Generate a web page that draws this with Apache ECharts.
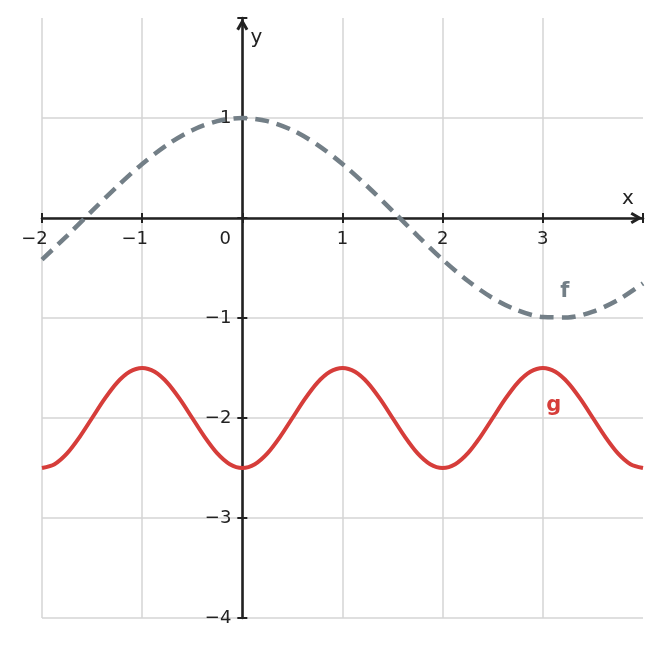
<!DOCTYPE html>
<html>
<head>
<meta charset="utf-8">
<script src="https://cdn.jsdelivr.net/npm/echarts@6/dist/echarts.min.js"></script>
<style>
html,body{margin:0;padding:0;background:#fff;}
#chart{width:661px;height:648px;}
</style>
</head>
<body>
<div id="chart"></div>
<script>
// x samples and values of f (grey dashed curve)
const fX = [-2, -1.75, -1.5, -1.25, -1, -0.75, -0.5, -0.25, 0, 0.25, 0.5, 0.75, 1, 1.25, 1.5, 1.75, 2, 2.25, 2.5, 2.75, 3, 3.25, 3.5, 3.75, 4];
const fY = [-0.416, -0.178, 0.071, 0.315, 0.540, 0.732, 0.878, 0.969, 1.0, 0.969, 0.878, 0.732, 0.540, 0.315, 0.071, -0.178, -0.416, -0.628, -0.801, -0.924, -0.990, -0.994, -0.936, -0.820, -0.654];

// x samples and values of g (red solid curve)
const gX = [-2, -1.875, -1.75, -1.625, -1.5, -1.375, -1.25, -1.125, -1, -0.875, -0.75, -0.625, -0.5, -0.375, -0.25, -0.125,
            0, 0.125, 0.25, 0.375, 0.5, 0.625, 0.75, 0.875, 1, 1.125, 1.25, 1.375, 1.5, 1.625, 1.75, 1.875,
            2, 2.125, 2.25, 2.375, 2.5, 2.625, 2.75, 2.875, 3, 3.125, 3.25, 3.375, 3.5, 3.625, 3.75, 3.875, 4];
const gY = [-2.5, -2.462, -2.354, -2.191, -2.0, -1.809, -1.646, -1.538, -1.5, -1.538, -1.646, -1.809, -2.0, -2.191, -2.354, -2.462,
            -2.5, -2.462, -2.354, -2.191, -2.0, -1.809, -1.646, -1.538, -1.5, -1.538, -1.646, -1.809, -2.0, -2.191, -2.354, -2.462,
            -2.5, -2.462, -2.354, -2.191, -2.0, -1.809, -1.646, -1.538, -1.5, -1.538, -1.646, -1.809, -2.0, -2.191, -2.354, -2.462, -2.5];

// tick labels
const xTickLabels = {'-2': '−2', '-1': '−1', '0': '0', '1': '1', '2': '2', '3': '3'};
const yTickLabels = {'1': '1', '-1': '−1', '-2': '−2', '-3': '−3', '-4': '−4'};

// curve label positions (data coords)
const fLabelPos = [3.22, -0.74];
const gLabelPos = [3.11, -1.88];

const FONT = 'DejaVu Sans';
const INK = '#222222';
const GREY = '#737f87';
const RED = '#d63d3a';
const GRIDC = '#d4d4d4';

const W = 661, H = 648;
const GL = 42, GR = 18, GT = 18, GB = 30;
const X_MIN = -2, X_MAX = 4, Y_MIN = -4, Y_MAX = 2;
// place axes through the origin (offset from grid edges; negative = into the grid)
const plotW = W - GL - GR, plotH = H - GT - GB;
const xAxisOffset = -plotH * (0 - Y_MIN) / (Y_MAX - Y_MIN);
const yAxisOffset = -plotW * (0 - X_MIN) / (X_MAX - X_MIN);

const chart = echarts.init(document.getElementById('chart'), null, {renderer: 'canvas'});

const arrowPath = 'path://M6,0 L12,10.5 L9.4,12 L6,6 L2.6,12 L0,10.5 Z';

const fData = fX.map((x, i) => [x, fY[i]]);
const gData = gX.map((x, i) => [x, gY[i]]);

const LBL = 18;

const option = {
  animation: false,
  backgroundColor: '#ffffff',
  grid: {left: GL, right: GR, top: GT, bottom: GB, containLabel: false, outerBoundsMode: 'none'},
  xAxis: [{
    type: 'value', min: X_MIN, max: X_MAX, interval: 1,
    position: 'bottom', offset: xAxisOffset,
    name: 'x', nameLocation: 'end', nameGap: -21,
    nameTextStyle: {fontFamily: FONT, fontSize: 20, color: INK, verticalAlign: 'bottom', padding: [0, 0, 9, 0]},
    axisLine: {show: true, onZero: false, lineStyle: {color: INK, width: 2.6},
      symbol: ['none', arrowPath], symbolSize: [12, 13], symbolOffset: [0, -6.5]},
    axisTick: {show: true, length: 5, lineStyle: {color: INK, width: 2}},
    axisLabel: {
      show: true, margin: 12, fontFamily: FONT, fontSize: LBL, color: INK,
      formatter: function (v) {
        const s = xTickLabels[String(v)];
        if (s === undefined) return '';
        if (v < 0) return '{n|' + s + '}';
        if (v === 0) return '{z|' + s + '}';
        return s;
      },
      rich: {
        n: {fontFamily: FONT, fontSize: LBL, color: INK, padding: [0, 15, 0, 0]},
        z: {fontFamily: FONT, fontSize: LBL, color: INK, padding: [0, 34, 0, 0]}
      }
    },
    splitLine: {show: true, showMaxLine: false, lineStyle: {color: GRIDC, width: 1.5}}
  }, {
    type: 'value', min: X_MIN, max: X_MAX, interval: 1,
    position: 'bottom', offset: xAxisOffset,
    axisLine: {show: false, onZero: false},
    axisTick: {show: true, inside: true, length: 5, lineStyle: {color: INK, width: 2}},
    axisLabel: {show: false},
    splitLine: {show: false}
  }],
  yAxis: [{
    type: 'value', min: Y_MIN, max: Y_MAX, interval: 1,
    position: 'left', offset: yAxisOffset,
    name: 'y', nameLocation: 'end', nameGap: -30,
    nameTextStyle: {fontFamily: FONT, fontSize: 20, color: INK, padding: [0, 0, 0, 28]},
    axisLine: {show: true, onZero: false, lineStyle: {color: INK, width: 2.6},
      symbol: ['none', arrowPath], symbolSize: [12, 13], symbolOffset: [0, -6.5]},
    axisTick: {show: true, length: 5, lineStyle: {color: INK, width: 2}},
    axisLabel: {
      show: true, margin: 11, fontFamily: FONT, fontSize: LBL, color: INK,
      formatter: function (v) {
        const s = yTickLabels[String(v)];
        return s === undefined ? '' : s;
      }
    },
    splitLine: {show: true, showMaxLine: false, lineStyle: {color: GRIDC, width: 1.5}}
  }, {
    type: 'value', min: Y_MIN, max: Y_MAX, interval: 1,
    position: 'left', offset: yAxisOffset,
    axisLine: {show: false, onZero: false},
    axisTick: {show: true, inside: true, length: 5, lineStyle: {color: INK, width: 2}},
    axisLabel: {show: false},
    splitLine: {show: false}
  }],
  series: [{
    name: 'f', type: 'line', xAxisIndex: 0, yAxisIndex: 0,
    data: fData, smooth: 0.3, showSymbol: false, symbol: 'none',
    lineStyle: {color: GREY, width: 4.5, type: [14, 8]},
    z: 3,
    markPoint: {
      symbol: 'circle', symbolSize: 1, itemStyle: {color: 'rgba(0,0,0,0)'},
      label: {show: true, position: 'inside', formatter: 'f', fontFamily: FONT, fontSize: 21, fontWeight: 'bold', color: GREY},
      data: [{coord: fLabelPos}]
    }
  }, {
    name: 'g', type: 'line', xAxisIndex: 0, yAxisIndex: 0,
    data: gData, smooth: 0.3, showSymbol: false, symbol: 'none',
    lineStyle: {color: RED, width: 4},
    z: 3,
    markPoint: {
      symbol: 'circle', symbolSize: 1, itemStyle: {color: 'rgba(0,0,0,0)'},
      label: {show: true, position: 'inside', formatter: 'g', fontFamily: FONT, fontSize: 21, fontWeight: 'bold', color: RED},
      data: [{coord: gLabelPos}]
    }
  }]
};

chart.setOption(option);
</script>
</body>
</html>
